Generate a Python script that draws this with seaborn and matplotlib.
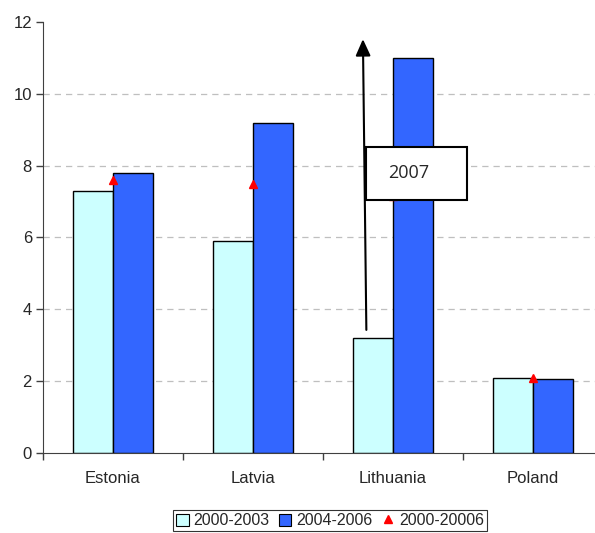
import matplotlib
matplotlib.use("Agg")
import matplotlib.pyplot as plt
from matplotlib.patches import Rectangle, Patch
from matplotlib.lines import Line2D
import seaborn as sns
import pandas as pd

countries = ["Estonia", "Latvia", "Lithuania", "Poland"]
period_a = [7.3, 5.9, 3.2, 2.1]        # 2000-2003
period_b = [7.8, 9.2, 11.0, 2.05]      # 2004-2006
period_all = [7.6, 7.5, 7.15, 2.1]     # 2000-20006
series_labels = ["2000-2003", "2004-2006", "2000-20006"]
yticks = [0, 2, 4, 6, 8, 10, 12]

light_c = "#CCFFFF"
dark_c = "#3366FF"

sns.set_style("white")
plt.rcParams["font.family"] = ["Liberation Sans", "DejaVu Sans"]

df = pd.DataFrame({
    "country": countries * 2,
    "value": period_a + period_b,
    "period": [series_labels[0]] * 4 + [series_labels[1]] * 4,
})

fig = plt.figure(figsize=(5.95, 5.33), dpi=100)
ax = fig.add_axes([43 / 595, 1 - 453 / 533, (595 - 43) / 595, (453 - 22) / 533])

sns.barplot(data=df, x="country", y="value", hue="period",
            palette=[light_c, dark_c], saturation=1, width=0.572, gap=0,
            edgecolor="black", linewidth=1.0, legend=False, ax=ax)

ax.plot(range(len(countries)), period_all, linestyle="none", marker="^",
        color="red", markersize=6, zorder=5)

# dashed horizontal gridlines
for v in yticks[1:-1]:
    ax.axhline(v, color="#BFBFBF", linestyle=(0, (5, 4)), linewidth=0.9, zorder=0)

ax.set_ylim(0, 12)
ax.set_xlim(-0.5, 3.443)
ax.set_yticks(yticks)
ax.set_xlabel("")
ax.set_ylabel("")

for s in ["top", "right"]:
    ax.spines[s].set_visible(False)
ax.spines["left"].set_color("#404040")
ax.spines["bottom"].set_color("#404040")

ax.tick_params(axis="y", direction="out", length=5, width=1, color="#404040",
               labelsize=12, pad=3, left=True)
ax.tick_params(axis="x", which="major", length=0, labelsize=12, pad=13)
ax.set_xticks([-0.5, 0.5, 1.5, 2.5], minor=True)
ax.tick_params(axis="x", which="minor", direction="out", length=5, width=1,
               color="#404040", bottom=True)

# annotation arrow and 2007 box over Lithuania
ax.annotate("", xy=(2 - 0.215, 11.6), xytext=(2 - 0.19, 3.35),
            arrowprops=dict(arrowstyle="-|>,head_length=1.0,head_width=0.45",
                            color="black", lw=1.5), zorder=6)
ax.add_patch(Rectangle((2 - 0.19, 7.05), 0.72, 1.47, facecolor="white",
                       edgecolor="black", linewidth=1.5, zorder=7))
ax.text(2 + 0.11, 7.8, "2007", ha="center", va="center", fontsize=13,
        family=["Open Sans", "DejaVu Sans"], zorder=8)

handles = [
    Patch(facecolor=light_c, edgecolor="black", linewidth=0.8),
    Patch(facecolor=dark_c, edgecolor="black", linewidth=0.8),
    Line2D([], [], linestyle="none", marker="^", color="red", markersize=6),
]
leg = fig.legend(handles, series_labels, loc="lower center",
                 bbox_to_anchor=(330 / 595, 0.0), ncol=3, frameon=True,
                 fancybox=False, edgecolor="black", fontsize=11.5,
                 handlelength=0.8, handleheight=0.8, handletextpad=0.3,
                 columnspacing=0.55, borderpad=0.2, borderaxespad=0.1)
leg.get_frame().set_linewidth(0.8)

fig.savefig("out.png", dpi=100)
